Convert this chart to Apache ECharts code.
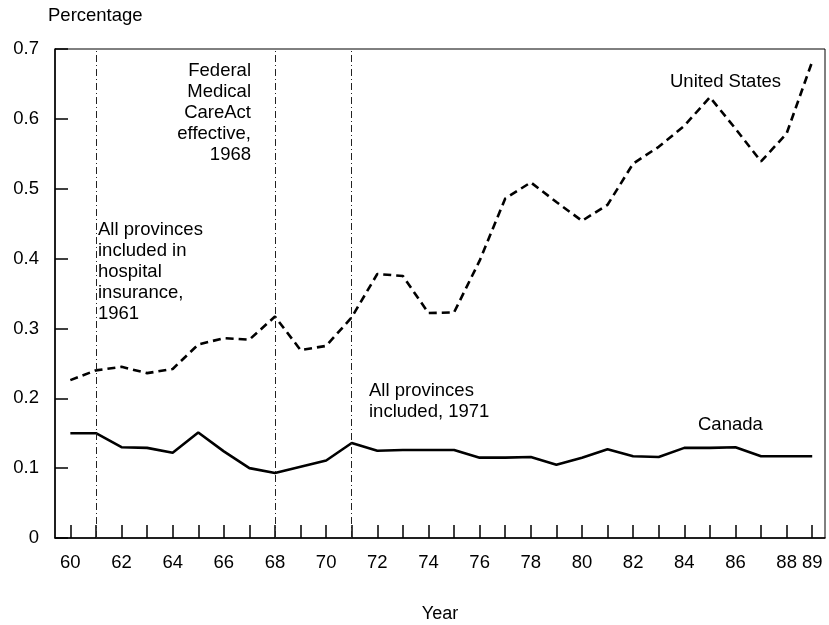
<!DOCTYPE html>
<html>
<head>
<meta charset="utf-8">
<script src="https://cdn.jsdelivr.net/npm/echarts@6/dist/echarts.min.js"></script>
<style>html,body{margin:0;padding:0;background:#fff}#c{width:829px;height:625px}</style>
</head>
<body>
<div id="c"></div>
<script>
const years = [60,61,62,63,64,65,66,67,68,69,70,71,72,73,74,75,76,77,78,79,80,81,82,83,84,85,86,87,88,89];
const canada = [0.150,0.150,0.130,0.129,0.122,0.151,0.124,0.100,0.093,0.102,0.111,0.136,0.125,0.126,0.126,0.126,0.115,0.115,0.116,0.105,0.115,0.127,0.117,0.116,0.129,0.129,0.130,0.117,0.117,0.117];
const unitedStates = [0.226,0.240,0.245,0.236,0.242,0.277,0.286,0.284,0.317,0.269,0.275,0.316,0.378,0.375,0.322,0.323,0.397,0.486,0.509,0.481,0.454,0.477,0.536,0.560,0.590,0.631,0.586,0.539,0.579,0.682];
const xTickValues = years;
const xLabelValues = [60,62,64,66,68,70,72,74,76,78,80,82,84,86,88,89];
const eventYears = [61,68,71];

const font = '"Liberation Sans", Arial, Helvetica, sans-serif';
const chart = echarts.init(document.getElementById('c'));
const txt = (left, top, text, align) => ({
  type: 'text', left: left, top: top,
  style: { text: text, font: '18.5px ' + font, fill: '#000', textAlign: align || 'left', lineHeight: 21 }
});
chart.setOption({
  animation: false,
  backgroundColor: '#fff',
  grid: { left: 55, right: 4, top: 49, bottom: 87, containLabel: false, outerBoundsMode: 'none', show: true, borderColor: '#000', borderWidth: 1, backgroundColor: 'transparent' },
  xAxis: {
    type: 'value', min: 59.4, max: 89.5,
    name: 'Year', nameLocation: 'middle', nameGap: 67,
    nameTextStyle: { fontFamily: font, fontSize: 18, color: '#000' },
    axisLine: { show: true, onZero: false, lineStyle: { color: '#000', width: 1.5 } },
    axisTick: { show: true, inside: true, length: 13, customValues: xTickValues, lineStyle: { color: '#000', width: 1.5 } },
    axisLabel: { customValues: xLabelValues, fontFamily: font, fontSize: 18.5, color: '#000', margin: 15, formatter: v => String(v) },
    splitLine: { show: false }
  },
  yAxis: {
    type: 'value', min: 0, max: 0.7, interval: 0.1,
    name: 'Percentage', nameLocation: 'end', nameGap: 24,
    nameTextStyle: { fontFamily: font, fontSize: 18.5, color: '#000', align: 'left', padding: [0,0,0,-7] },
    axisLine: { show: true, lineStyle: { color: '#000', width: 1.5 } },
    axisTick: { show: true, inside: true, length: 13, lineStyle: { color: '#000', width: 1.5 } },
    axisLabel: { fontFamily: font, fontSize: 18.5, color: '#000', margin: 16, formatter: v => v === 0 ? '0' : v.toFixed(1) },
    splitLine: { show: false }
  },
  series: [
    {
      name: 'Canada', type: 'line', showSymbol: false,
      data: years.map((y, i) => [y, canada[i]]),
      lineStyle: { color: '#000', width: 2.6, type: 'solid' },
      markLine: {
        silent: true, symbol: ['none','none'], label: { show: false },
        lineStyle: { color: '#222', width: 1, type: [7,3,1,3] },
        data: eventYears.map(y => ({ xAxis: y }))
      }
    },
    {
      name: 'United States', type: 'line', showSymbol: false,
      data: years.map((y, i) => [y, unitedStates[i]]),
      lineStyle: { color: '#000', width: 2.6, type: [8,5] }
    }
  ],
  graphic: [
    { type: 'text', right: 578, top: 60, style: { text: 'Federal\nMedical\nCareAct\neffective,\n1968', font: '18.5px ' + font, fill: '#000', textAlign: 'right', lineHeight: 21 } },
    txt(98, 219, 'All provinces\nincluded in\nhospital\ninsurance,\n1961'),
    txt(369, 380, 'All provinces\nincluded, 1971'),
    txt(670, 71, 'United States'),
    txt(698, 414, 'Canada')
  ]
});
</script>
</body>
</html>
